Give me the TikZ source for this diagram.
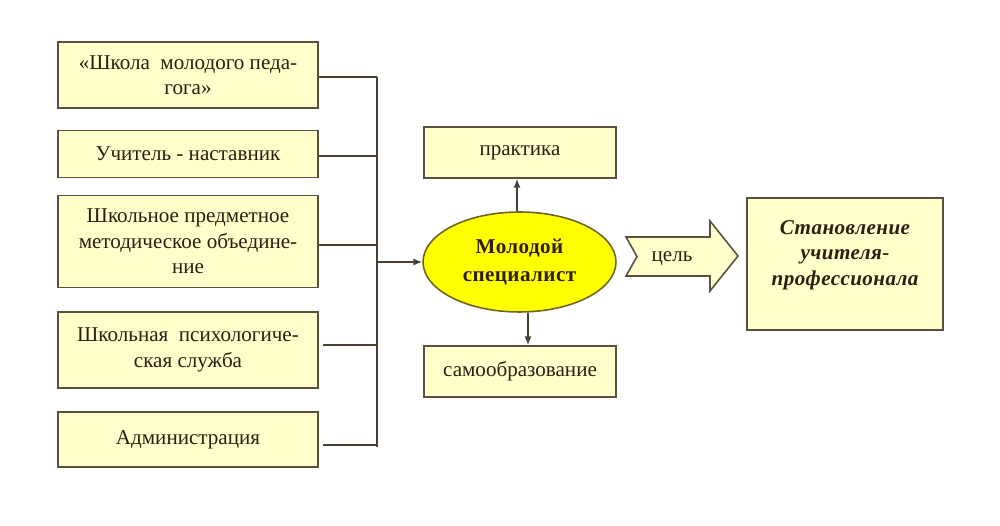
\documentclass[tikz,border=0pt]{standalone}
\usepackage{fontspec}
\setmainfont{Liberation Serif}
\usetikzlibrary{arrows.meta,shapes.geometric,calc}
\definecolor{boxfill}{RGB}{255,255,204}
\definecolor{boxline}{RGB}{90,80,64}
\definecolor{txt}{RGB}{45,30,15}
\definecolor{ellfill}{RGB}{255,255,0}
\definecolor{ellline}{RGB}{110,100,40}
\begin{document}
\begin{tikzpicture}[x=0.02cm,y=-0.02cm,
  every node/.style={text=txt},
  lbox/.style={draw=boxline,fill=boxfill,line width=1pt,minimum width=5.2cm,align=center,inner sep=0pt,font=\fontsize{12}{14.4}\selectfont},
  cbox/.style={draw=boxline,fill=boxfill,line width=1pt,minimum width=3.84cm,minimum height=1.02cm,align=center,inner sep=0pt,font=\fontsize{12}{14.4}\selectfont},
  conn/.style={draw=boxline!80!black,line width=0.8pt},
  arr/.style={conn,-{Latex[length=5pt,width=4pt]}}]
\useasboundingbox (0,0) rectangle (1000,526);
\fill[white] (0,0) rectangle (1000,526);
% left boxes
\node[lbox,minimum height=1.32cm] (b1) at (188,75) {«Школа\ \ молодого педа-\\гога»};
\node[lbox,minimum height=0.94cm] (b2) at (188,154) {Учитель - наставник};
\node[lbox,minimum height=1.84cm] (b3) at (188,241.5) {Школьное предметное\\методическое объедине-\\ние};
\node[lbox,minimum height=1.52cm] (b4) at (188,350) {Школьная\ \ психологиче-\\ская служба};
\node[lbox,minimum height=1.1cm] (b5) at (188,439.5) {Администрация};
% bus
\coordinate (busT) at (377,77);
\coordinate (busB) at (377,447);
\coordinate (busM) at (377,262);
\draw[conn] (busT) -- (busB);
\draw[conn] ([yshift=-0.04cm]b1.east) -- ([yshift=-0.04cm]b1.east -| busT);
\draw[conn] ([yshift=-0.04cm]b2.east) -- ([yshift=-0.04cm]b2.east -| busT);
\draw[conn] ([yshift=-0.07cm]b3.east) -- ([yshift=-0.07cm]b3.east -| busT);
\draw[conn] ([xshift=0.08cm,yshift=0.1cm]b4.east) -- ([yshift=0.1cm]b4.east -| busT);
\draw[conn] ([xshift=0.08cm,yshift=-0.11cm]b5.east) -- ([yshift=-0.11cm]b5.east -| busT);
% centre
\node[draw=ellline,fill=ellfill,line width=0.9pt,ellipse,minimum width=3.86cm,minimum height=2.0cm,inner sep=0pt,align=center,font=\fontsize{12}{15.5}\selectfont\bfseries] (ms) at (519.5,262) {\addfontfeature{LetterSpace=2}Молодой\\\addfontfeature{LetterSpace=2}специалист};
\node[cbox] (pr) at (520,152.5) {практика};
\node[cbox] (so) at (520,371.5) {самообразование};
\draw[arr] (busM) -- (ms.west);
\draw[arr] (ms.north -| 517,0) -- (pr.south -| 517,0);
\draw[arr] (ms.south -| 528,0) -- (so.north -| 528,0);
% block arrow
\draw[draw=boxline,fill=boxfill,line width=0.9pt,line join=miter]
  (626,237) -- (710,237) -- (710,221) -- (738,256) -- (710,291) -- (710,276) -- (626,276) -- (637,256.5) -- cycle;
\node[font=\fontsize{12}{14}\selectfont] (goal) at (672,259) {цель};
% right box
\node[draw=boxline,fill=boxfill,line width=1pt,minimum width=3.92cm,minimum height=2.64cm,inner sep=0pt] (rb) at (845,264) {};
\node[align=center,font=\fontsize{12}{14.6}\selectfont\bfseries\itshape] (rt) at (845,255) {\addfontfeature{LetterSpace=2}Становление\\\addfontfeature{LetterSpace=2}учителя-\\\addfontfeature{LetterSpace=2}профессионала};
\end{tikzpicture}
\end{document}
